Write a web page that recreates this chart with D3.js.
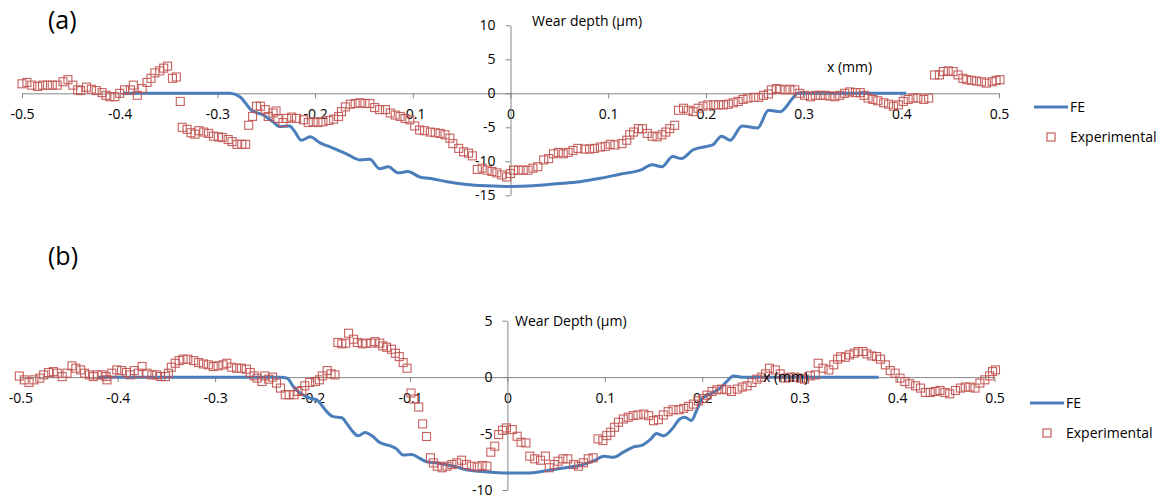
<!DOCTYPE html>
<html><head><meta charset="utf-8">
<script src="https://cdn.jsdelivr.net/npm/d3@7"></script>
<style>
body{margin:0;background:#fff}
svg{display:block}
text{font-family:"Open Sans",sans-serif}
</style>
</head><body>
<svg id="c" width="1173" height="499"></svg>
<script>
// ---------- DATA ----------
const X_TICKS = [-0.5,-0.4,-0.3,-0.2,-0.1,0,0.1,0.2,0.3,0.4,0.5];
const Y_TICKS_A = [-15,-10,-5,0,5,10];
const Y_TICKS_B = [-10,-5,0,5];
const SERIES_NAMES = ["FE","Experimental"];

// Panel (a) FE: [x (mm), wear depth (µm)]
const feA = [[-0.397,0],[-0.287,0],[-0.277,-0.5],[-0.265,-2.5],[-0.253,-3.2],[-0.243,-4.2],[-0.236,-4.9],
[-0.226,-4.8],[-0.221,-5.6],[-0.214,-6.9],[-0.205,-6.4],[-0.195,-7.3],[-0.184,-7.9],[-0.168,-8.9],
[-0.154,-9.8],[-0.144,-9.7],[-0.134,-11.1],[-0.125,-10.8],[-0.115,-11.7],[-0.105,-11.5],[-0.093,-12.3],
[-0.079,-12.6],[-0.065,-13.0],[-0.045,-13.4],[-0.024,-13.6],[0.0,-13.7],[0.023,-13.6],[0.047,-13.3],
[0.071,-13.0],[0.092,-12.5],[0.112,-11.9],[0.133,-11.3],[0.145,-10.5],[0.155,-10.8],[0.166,-9.3],
[0.175,-9.6],[0.187,-8.3],[0.201,-7.8],[0.207,-7.6],[0.216,-6.3],[0.225,-6.9],[0.237,-4.8],[0.253,-5.1],
[0.264,-2.5],[0.276,-2.7],[0.289,-0.7],[0.294,0],[0.405,0]];

// Panel (a) Experimental
const expA = [[-0.500,1.4],[-0.495,1.6],[-0.490,1.2],[-0.484,1.0],[-0.479,1.2],[-0.474,1.2],[-0.469,1.2],
[-0.464,1.2],[-0.458,1.7],[-0.453,2.0],[-0.448,1.2],[-0.443,0.5],[-0.440,0.4],[-0.434,0.9],[-0.429,0.6],
[-0.424,0.4],[-0.418,0.1],[-0.414,-0.3],[-0.410,-0.5],[-0.405,-0.5],[-0.400,0.0],[-0.395,0.5],[-0.389,0.5],
[-0.386,1.2],[-0.382,-0.3],[-0.377,0.7],[-0.372,1.6],[-0.368,2.2],[-0.364,3.0],[-0.359,3.3],[-0.355,3.7],
[-0.351,4.0],[-0.346,2.2],[-0.342,2.4],[-0.338,-1.2],[-0.336,-5.0],[-0.331,-5.3],[-0.327,-5.8],[-0.323,-6.0],
[-0.319,-5.5],[-0.314,-5.7],[-0.309,-5.9],[-0.304,-6.3],[-0.299,-6.4],[-0.295,-6.5],[-0.289,-6.8],[-0.285,-7.1],
[-0.280,-7.5],[-0.275,-7.5],[-0.271,-7.5],[-0.268,-4.7],[-0.264,-3.4],[-0.260,-1.9],[-0.256,-1.9],[-0.251,-2.4],
[-0.248,-3.4],[-0.243,-2.9],[-0.240,-2.6],[-0.238,-3.7],[-0.233,-4.3],[-0.229,-3.7],[-0.224,-3.5],[-0.219,-3.7],
[-0.212,-3.9],[-0.207,-4.3],[-0.202,-4.2],[-0.197,-4.3],[-0.192,-4.2],[-0.186,-4.0],[-0.181,-3.8],[-0.176,-3.4],
[-0.173,-2.7],[-0.169,-2.0],[-0.164,-1.6],[-0.159,-1.5],[-0.154,-1.4],[-0.149,-1.5],[-0.144,-1.5],[-0.139,-2.1],
[-0.134,-2.4],[-0.128,-2.4],[-0.123,-2.9],[-0.118,-3.2],[-0.113,-3.4],[-0.108,-3.7],[-0.103,-3.9],[-0.098,-4.8],
[-0.093,-5.4],[-0.088,-5.5],[-0.082,-5.7],[-0.077,-5.8],[-0.072,-5.9],[-0.067,-6.1],[-0.062,-6.6],[-0.059,-7.4],
[-0.053,-8.1],[-0.048,-8.6],[-0.043,-8.8],[-0.039,-9.2],[-0.034,-11.2],[-0.029,-11.0],[-0.024,-11.3],[-0.019,-11.5],
[-0.014,-11.7],[-0.009,-12.0],[-0.004,-12.3],[0.000,-11.8],[0.003,-11.3],[0.008,-11.3],[0.013,-11.3],[0.018,-11.3],
[0.023,-11.0],[0.028,-10.8],[0.034,-9.8],[0.039,-9.6],[0.044,-8.9],[0.049,-8.7],[0.054,-8.9],[0.059,-8.7],
[0.064,-8.4],[0.069,-8.1],[0.076,-8.2],[0.081,-8.2],[0.086,-8.1],[0.092,-7.9],[0.097,-7.8],[0.102,-7.5],
[0.107,-7.6],[0.114,-7.4],[0.119,-6.9],[0.122,-6.1],[0.126,-5.7],[0.131,-5.2],[0.135,-5.2],[0.140,-5.9],
[0.145,-6.3],[0.150,-6.4],[0.155,-6.1],[0.159,-5.7],[0.163,-5.2],[0.168,-4.7],[0.172,-2.5],[0.177,-2.2],
[0.182,-2.5],[0.187,-2.7],[0.192,-2.2],[0.197,-1.9],[0.202,-1.7],[0.208,-1.7],[0.213,-1.7],[0.218,-1.7],
[0.223,-1.6],[0.228,-1.4],[0.233,-1.2],[0.238,-0.9],[0.243,-0.7],[0.249,-0.6],[0.254,-0.6],[0.259,-0.3],
[0.264,-0.1],[0.267,0.5],[0.272,0.7],[0.276,0.6],[0.281,0.5],[0.286,0.6],[0.291,0.5],[0.296,0.0],
[0.301,-0.3],[0.307,-0.5],[0.312,-0.3],[0.317,-0.3],[0.322,-0.3],[0.327,-0.4],[0.332,-0.5],[0.337,-0.3],
[0.342,0.0],[0.347,0.2],[0.353,0.1],[0.358,0.1],[0.362,-0.3],[0.366,-0.7],[0.371,-0.9],[0.376,-1.1],
[0.382,-1.4],[0.387,-1.6],[0.392,-1.9],[0.397,-1.7],[0.402,-1.2],[0.407,-0.9],[0.412,-0.7],[0.417,-0.7],
[0.423,-0.9],[0.428,-0.7],[0.434,2.7],[0.439,2.7],[0.443,3.2],[0.448,3.3],[0.453,3.2],[0.458,2.7],
[0.463,2.2],[0.467,2.0],[0.472,1.9],[0.477,1.8],[0.482,1.7],[0.487,1.5],[0.493,1.7],[0.497,1.9],[0.501,2.0]];

// Panel (b) FE
const feB = [[-0.42,0],[-0.233,0],[-0.226,-0.1],[-0.220,-0.8],[-0.213,-1.4],[-0.203,-1.85],[-0.196,-2.0],
[-0.191,-2.45],[-0.186,-3.0],[-0.179,-3.5],[-0.170,-3.6],[-0.165,-4.1],[-0.158,-4.9],[-0.153,-5.2],[-0.146,-4.9],
[-0.139,-5.2],[-0.131,-5.8],[-0.120,-6.1],[-0.114,-6.35],[-0.107,-6.9],[-0.098,-6.85],[-0.090,-7.2],[-0.083,-7.5],
[-0.069,-7.65],[-0.055,-7.9],[-0.042,-8.2],[-0.021,-8.4],[-0.001,-8.5],[0.020,-8.5],[0.040,-8.3],[0.061,-8.0],
[0.075,-7.8],[0.088,-7.45],[0.099,-7.0],[0.109,-7.1],[0.119,-6.65],[0.129,-6.2],[0.138,-6.05],[0.147,-5.5],
[0.153,-5.0],[0.160,-5.2],[0.169,-4.6],[0.177,-3.7],[0.182,-3.55],[0.189,-3.85],[0.194,-3.0],[0.200,-1.9],
[0.208,-1.5],[0.218,-1.0],[0.225,-0.4],[0.232,0.1],[0.241,0],[0.381,0]];

// Panel (b) Experimental
const expB = [[-0.501,0.1],[-0.496,-0.24],[-0.491,-0.47],[-0.486,-0.24],[-0.480,-0.09],[-0.476,0.2],[-0.471,0.41],
[-0.466,0.49],[-0.462,0.35],[-0.457,0.05],[-0.452,0.35],[-0.447,1.0],[-0.443,0.79],[-0.438,0.64],[-0.434,0.35],
[-0.429,0.2],[-0.425,0.05],[-0.421,0.2],[-0.416,0.2],[-0.412,0.05],[-0.411,-0.24],[-0.406,0.35],[-0.401,0.64],
[-0.396,0.58],[-0.391,0.41],[-0.387,0.2],[-0.383,0.58],[-0.379,0.35],[-0.375,0.94],[-0.370,0.35],[-0.365,0.2],
[-0.360,0.2],[-0.356,0.05],[-0.351,0.05],[-0.348,0.35],[-0.345,0.88],[-0.341,1.23],[-0.337,1.46],[-0.333,1.59],
[-0.328,1.59],[-0.322,1.46],[-0.317,1.29],[-0.312,1.17],[-0.307,1.09],[-0.302,0.94],[-0.297,1.0],[-0.292,1.09],
[-0.288,1.23],[-0.283,0.88],[-0.278,0.79],[-0.273,0.79],[-0.268,0.7],[-0.264,0.41],[-0.260,0.11],[-0.257,-0.09],
[-0.252,-0.39],[-0.249,0.11],[-0.245,-0.18],[-0.241,0.0],[-0.237,-0.53],[-0.233,-0.97],[-0.228,-1.56],[-0.224,-1.56],
[-0.219,-1.56],[-0.215,-1.27],[-0.211,-1.19],[-0.208,-0.77],[-0.203,-0.47],[-0.197,-0.39],[-0.193,-0.24],[-0.190,0.11],
[-0.185,0.58],[-0.181,0.29],[-0.177,0.2],[-0.174,3.07],[-0.170,2.95],[-0.166,3.01],[-0.163,3.89],[-0.158,3.36],
[-0.154,3.07],[-0.149,2.95],[-0.145,3.01],[-0.140,3.01],[-0.136,3.15],[-0.131,3.01],[-0.128,2.77],[-0.124,2.65],
[-0.119,2.47],[-0.115,2.12],[-0.111,1.82],[-0.107,1.29],[-0.103,0.79],[-0.099,-1.41],[-0.096,-1.94],[-0.091,-2.65],
[-0.087,-4.14],[-0.083,-5.26],[-0.079,-7.15],[-0.076,-7.6],[-0.072,-7.89],[-0.067,-8.03],[-0.062,-7.89],[-0.057,-7.74],
[-0.052,-7.6],[-0.047,-7.36],[-0.042,-7.74],[-0.037,-7.89],[-0.031,-7.95],[-0.026,-7.83],[-0.021,-7.89],[-0.017,-6.65],
[-0.013,-6.12],[-0.009,-5.09],[-0.005,-4.71],[-0.001,-4.5],[0.005,-4.65],[0.010,-5.24],[0.014,-5.77],[0.019,-5.83],
[0.023,-7.0],[0.028,-7.24],[0.034,-7.36],[0.039,-7.0],[0.043,-8.03],[0.048,-7.74],[0.052,-7.45],[0.057,-7.24],
[0.062,-7.24],[0.068,-7.74],[0.073,-7.89],[0.078,-7.59],[0.083,-7.24],[0.088,-7.15],[0.093,-5.47],[0.098,-5.62],
[0.102,-5.18],[0.106,-4.88],[0.110,-4.44],[0.114,-4.0],[0.119,-3.71],[0.124,-3.56],[0.129,-3.41],[0.134,-3.35],
[0.140,-3.27],[0.145,-3.41],[0.150,-3.86],[0.155,-3.77],[0.160,-3.35],[0.165,-3.06],[0.170,-2.89],[0.176,-2.89],
[0.181,-2.77],[0.186,-2.59],[0.191,-2.39],[0.196,-2.1],[0.201,-1.9],[0.205,-1.6],[0.210,-1.27],[0.215,-1.12],
[0.220,-1.06],[0.225,-1.12],[0.230,-1.27],[0.236,-1.06],[0.241,-0.88],[0.246,-0.77],[0.251,-0.48],[0.256,-0.18],
[0.261,0.0],[0.265,0.29],[0.269,0.79],[0.275,0.64],[0.280,0.29],[0.285,-0.09],[0.290,0.0],[0.295,0.0],
[0.301,-0.09],[0.305,-0.18],[0.311,0.11],[0.316,0.2],[0.319,1.23],[0.324,0.79],[0.330,0.64],[0.335,1.09],
[0.339,1.59],[0.342,1.8],[0.347,1.76],[0.351,1.97],[0.356,2.12],[0.360,2.27],[0.365,2.27],[0.369,2.06],
[0.374,1.88],[0.379,1.82],[0.383,1.59],[0.388,1.09],[0.393,0.58],[0.398,0.35],[0.403,-0.09],[0.408,-0.39],
[0.413,-0.59],[0.419,-0.77],[0.424,-0.97],[0.429,-1.36],[0.434,-1.36],[0.439,-1.27],[0.444,-1.18],[0.449,-1.36],
[0.454,-1.48],[0.460,-1.18],[0.465,-0.97],[0.470,-0.88],[0.475,-0.88],[0.480,-0.97],[0.485,-0.53],[0.490,-0.24],
[0.495,0.11],[0.498,0.49],[0.501,0.64]];

// ---------- DRAWING ----------
const svg = d3.select("#c");
const BLUE = "#4A7EBB", RED = "#C0504D", AXIS = "#868686";
const fmtX = d => d === 0 ? "0" : d.toFixed(1);

function panel(o){
  const g = svg.append("g");
  const x = d3.scaleLinear().domain([-0.5,0.5]).range(o.xr);
  const y = d3.scaleLinear().domain(o.yd).range(o.yr);

  const xa = g.append("g").attr("transform",`translate(0,${y(0)})`)
    .call(d3.axisBottom(x).tickValues(X_TICKS).tickSize(5).tickSizeOuter(0).tickPadding(11).tickFormat(fmtX));
  const ya = g.append("g").attr("transform",`translate(${x(0)},0)`)
    .call(d3.axisLeft(y).tickValues(o.yt).tickSize(5).tickSizeOuter(0).tickPadding(10).tickFormat(d=>String(d)));
  [xa,ya].forEach(a=>{
    a.select(".domain").attr("stroke",AXIS).attr("stroke-width",1);
    a.selectAll(".tick line").attr("stroke",AXIS);
    a.selectAll(".tick text").attr("fill","#000").style("font-size","14px").style("font-family","'Open Sans',sans-serif");
  });

  // FE line
  g.append("path").datum(o.fe)
    .attr("fill","none").attr("stroke",BLUE).attr("stroke-width",3).attr("stroke-linejoin","round")
    .attr("d", d3.line().x(d=>x(d[0])).y(d=>y(d[1])).curve(d3.curveMonotoneX));

  // Experimental markers
  g.append("g").selectAll("rect").data(o.exp).join("rect")
    .attr("x",d=>x(d[0])-4).attr("y",d=>y(d[1])-4).attr("width",8).attr("height",8)
    .attr("fill","none").attr("stroke",RED).attr("stroke-width",1.1).attr("stroke-opacity",0.9);

  // axis titles
  g.append("text").attr("x",o.yTitle[0]).attr("y",o.yTitle[1]).attr("dy","0.35em")
    .style("font-size","14px").attr("fill","#000").text(o.yTitleText);
  g.append("text").attr("x",o.xTitle[0]).attr("y",o.xTitle[1]).attr("dy","0.35em")
    .style("font-size","14px").attr("fill","#000").text("x (mm)");

  // panel label
  g.append("text").attr("x",o.label[0]).attr("y",o.label[1])
    .style("font-size","25px").attr("fill","#000").text(o.labelText);

  // legend
  const L = o.legend;
  g.append("line").attr("x1",L.x).attr("x2",L.x+34).attr("y1",L.y).attr("y2",L.y)
    .attr("stroke",BLUE).attr("stroke-width",3);
  g.append("text").attr("x",L.x+36).attr("y",L.y).attr("dy","0.35em").style("font-size","14px").text(SERIES_NAMES[0]);
  g.append("rect").attr("x",L.x+17-4).attr("y",L.y+30-4).attr("width",8).attr("height",8)
    .attr("fill","none").attr("stroke",RED).attr("stroke-width",1.1);
  g.append("text").attr("x",L.x+36).attr("y",L.y+30).attr("dy","0.35em").style("font-size","14px").text(SERIES_NAMES[1]);
}

panel({xr:[22,999], yd:[-15,10], yr:[195.3,25.3], yt:Y_TICKS_A, fe:feA, exp:expA,
  yTitle:[532,21], yTitleText:"Wear depth (\u00b5m)", xTitle:[827,67],
  label:[48,29], labelText:"(a)", legend:{x:1034,y:107}});

panel({xr:[20.3,994.5], yd:[-10,5], yr:[490,320.7], yt:Y_TICKS_B, fe:feB, exp:expB,
  yTitle:[515,321], yTitleText:"Wear Depth (\u00b5m)", xTitle:[763,377],
  label:[48,265], labelText:"(b)", legend:{x:1030,y:403}});
</script>
</body></html>
